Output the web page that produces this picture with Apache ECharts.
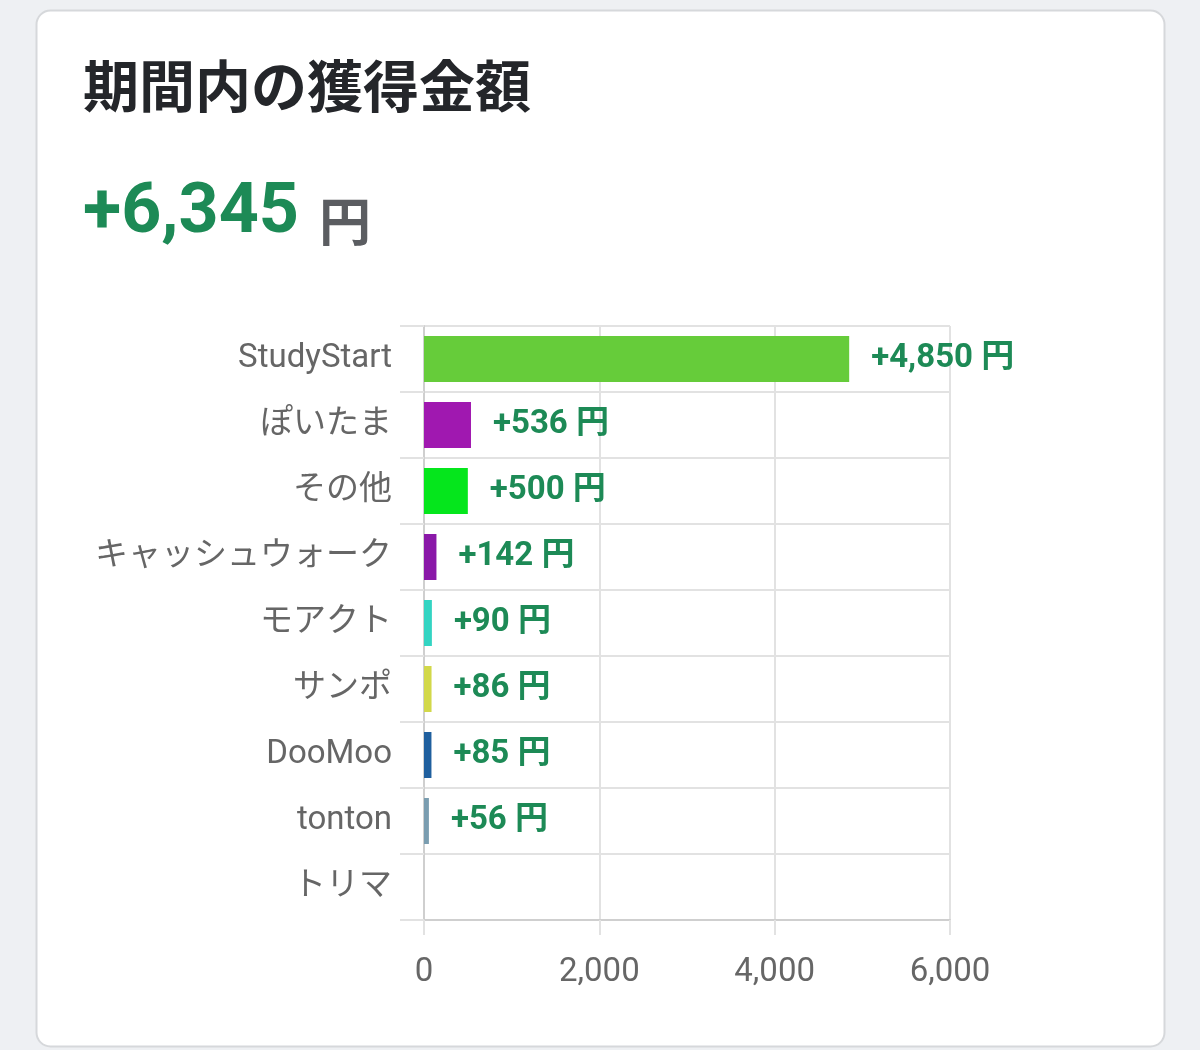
<!DOCTYPE html>
<html>
<head>
<meta charset="utf-8">
<script src="https://cdn.jsdelivr.net/npm/echarts@6/dist/echarts.min.js"></script>
<style>
html,body{margin:0;padding:0;background:#eef0f3;}
#c{width:1200px;height:1050px;}
</style>
</head>
<body>
<div id="c"></div>
<script>
const categories = ['StudyStart','ぽいたま','その他','キャッシュウォーク','モアクト','サンポ','DooMoo','tonton','トリマ'];
const values = [4850, 536, 500, 142, 90, 86, 85, 56, 0];
const barColors = ['#66cc3a','#a018b0','#05e61c','#8a18a8','#33d4c2','#d2d84a','#1f5f9e','#7a9db0','#999999'];
const xTicks = [0, 2000, 4000, 6000];
const totalText = '+6,345';

const FONT = 'Roboto, "Noto Sans CJK JP", sans-serif';
const chart = echarts.init(document.getElementById('c'), null, {renderer:'canvas'});
chart.setOption({
  backgroundColor: '#eef0f3',
  animation: false,
  graphic: [{
    type: 'rect', z: -10, silent: true,
    shape: {x: 36.5, y: 10.5, width: 1128, height: 1036, r: 14},
    style: {fill: '#ffffff', stroke: '#d6d8db', lineWidth: 2}
  }],
  title: [{
    text: '期間内の獲得金額',
    left: 78, top: 53,
    textStyle: {fontFamily: '"Noto Sans CJK JP", sans-serif', fontSize: 56, fontWeight: 'bold', color: '#24262a'}
  },{
    text: '{n|' + totalText + '}{u|円}',
    left: 78, top: 175,
    textStyle: {
      rich: {
        n: {fontFamily: FONT, fontSize: 70, fontWeight: 'bold', color: '#1d8a56'},
        u: {fontFamily: '"Noto Sans CJK JP", sans-serif', fontSize: 52, fontWeight: 'bold', color: '#5b5d61', padding:[12,0,0,20]}
      }
    }
  }],
  grid: {left: 424, right: 250, top: 326, bottom: 130, containLabel: false},
  xAxis: {
    type: 'value', min: 0, max: 6000, interval: 2000,
    axisLine: {show: true, lineStyle: {color: '#cfcfcf', width: 2}},
    axisTick: {show: true, length: 15, lineStyle: {color: '#e2e2e2', width: 2}},
    splitLine: {show: true, lineStyle: {color: '#e2e2e2', width: 2}},
    axisLabel: {
      color: '#666', fontSize: 33, fontFamily: FONT, margin: 36,
      formatter: v => xTicks.includes(v) ? v.toLocaleString('en-US') : ''
    }
  },
  yAxis: {
    type: 'category', inverse: true, data: categories,
    axisLine: {show: true, onZero: false, lineStyle: {color: '#cfcfcf', width: 2}},
    axisTick: {show: true, length: 24, lineStyle: {color: '#e2e2e2', width: 2}},
    splitLine: {show: true, lineStyle: {color: '#e2e2e2', width: 2}},
    axisLabel: {color: '#666', fontSize: 33, fontFamily: FONT, margin: 32, padding: [5, 0, 0, 0]}
  },
  series: [{
    type: 'bar',
    barWidth: 46,
    data: values.map((v, i) => ({value: v, itemStyle: {color: barColors[i]}})),
    label: {
      show: true, position: 'right', distance: 22, padding: [5, 0, 0, 0],
      fontFamily: FONT, fontSize: 33, fontWeight: 'bold', color: '#1d8a56',
      formatter: p => p.value > 0 ? '+' + p.value.toLocaleString('en-US') + ' 円' : ''
    }
  }]
});
</script>
</body>
</html>
